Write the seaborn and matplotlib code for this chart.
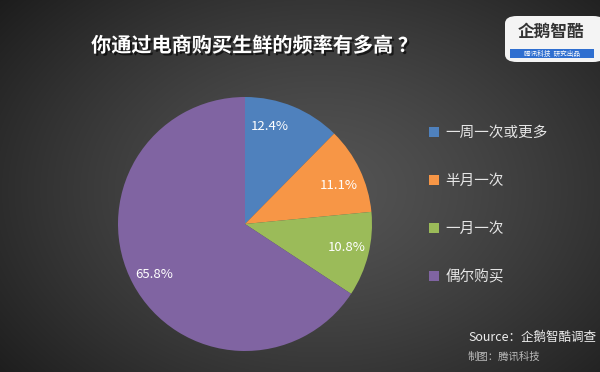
import numpy as np
import matplotlib
matplotlib.use('Agg')
import matplotlib.pyplot as plt
import matplotlib.patheffects as pe
from matplotlib.patches import FancyBboxPatch, Rectangle
import seaborn as sns

sns.set_style('dark')
plt.rcParams['font.family'] = ['Noto Sans CJK SC', 'DejaVu Sans']

# data
categories = ['一周一次或更多', '半月一次', '一月一次', '偶尔购买']
shares = [12.4, 11.1, 10.8, 65.8]
palette = ['#4F81BD', '#F79646', '#9BBB59', '#8064A2']
title = '你通过电商购买生鲜的频率有多高 ？'

fig = plt.figure(figsize=(6, 3.72), dpi=100)

# radial gradient background
bg = fig.add_axes([0, 0, 1, 1])
yy, xx = np.mgrid[0:372, 0:600]
d = np.sqrt(((xx - 320) / 420) ** 2 + ((yy - 190) / 300) ** 2)
d = np.clip(d, 0, 1)
shade = 0.33 - 0.22 * d ** 1.3
bg.imshow(np.dstack([shade] * 3), extent=[0, 1, 0, 1], aspect='auto')
bg.set_axis_off()

# pie
ax = fig.add_axes([118 / 600, 21 / 372, 254 / 600, 254 / 372])
wedges, texts, autotexts = ax.pie(
    shares, colors=palette, startangle=90, counterclock=False,
    autopct='%1.1f%%', pctdistance=0.8,
    wedgeprops={'linewidth': 0},
    textprops={'color': 'white', 'fontsize': 9.5})
# labels show the survey values; placed like Excel's best fit
label_angles = [75.5, 22.5, -12.8, 209]
label_radius = [0.79, 0.8, 0.82, 0.82]
for t, v, a, r in zip(autotexts, shares, label_angles, label_radius):
    t.set_text(f'{v:.1f}%')
    t.set_position((r * np.cos(np.radians(a)), r * np.sin(np.radians(a))))
ax.set_xlim(-1, 1)
ax.set_ylim(-1, 1)
ax.set_axis_off()

# legend
leg = fig.legend(wedges, categories, loc='upper left', bbox_to_anchor=(0.693, 0.697),
                 frameon=False, labelspacing=2.33, handlelength=0.7, handleheight=0.7,
                 handletextpad=0.45, fontsize=10.5)
for t in leg.get_texts():
    t.set_color('#e6e6e6')

# title
fig.text(0.424, 0.878, title, color='white', fontsize=14.5, fontweight='bold',
         ha='center', va='center',
         path_effects=[pe.withSimplePatchShadow(offset=(1.5, -1.5), shadow_rgbFace='black', alpha=0.6)])

# logo box
fig.patches.append(FancyBboxPatch((505 / 600, 1 - 62 / 372), 100 / 600, 46 / 372,
                                  boxstyle='round,pad=0,rounding_size=0.02',
                                  transform=fig.transFigure, facecolor='#f4f4f4',
                                  edgecolor='none'))
fig.text(551 / 600, 1 - 32 / 372, '企鹅智酷', color='#333333', fontsize=12,
         fontweight='bold', ha='center', va='center')
fig.patches.append(Rectangle((510 / 600, 1 - 58 / 372), 84 / 600, 9 / 372,
                             transform=fig.transFigure, facecolor='#2f6fd0', edgecolor='none'))
fig.text(552 / 600, 1 - 53.5 / 372, '腾讯科技  研究出品', color='white', fontsize=4.8,
         ha='center', va='center', style='italic')

# source
fig.text(468 / 600, 1 - 337 / 372, 'Source：企鹅智酷调查', color='#eeeeee', fontsize=9,
         style='italic', ha='left', va='center')
fig.text(468 / 600, 1 - 357 / 372, '制图：腾讯科技', color='#bbbbbb', fontsize=7.5,
         style='italic', ha='left', va='center')

fig.savefig('out.png', dpi=100)
